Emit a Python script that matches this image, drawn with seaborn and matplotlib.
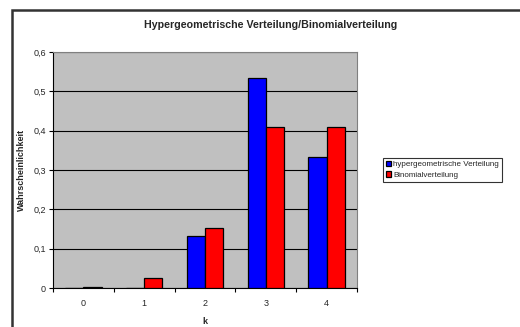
import matplotlib
matplotlib.use("Agg")
import matplotlib.pyplot as plt
import seaborn as sns
import pandas as pd
from matplotlib.patches import Rectangle

k_values = ["0", "1", "2", "3", "4"]
hyper = [0.0, 0.0, 0.1333, 0.5333, 0.3333]
binom = [0.0016, 0.0256, 0.1536, 0.4096, 0.4096]
series_names = ["hypergeometrische Verteilung", "Binomialverteilung"]
y_ticks = [0, 0.1, 0.2, 0.3, 0.4, 0.5, 0.6]
y_labels = ["0", "0,1", "0,2", "0,3", "0,4", "0,5", "0,6"]

df = pd.DataFrame({
    "k": k_values * 2,
    "p": hyper + binom,
    "serie": [series_names[0]] * len(k_values) + [series_names[1]] * len(k_values),
})

sns.set_theme(style="white")
plt.rcParams["font.family"] = ["Liberation Sans", "DejaVu Sans"]

fig = plt.figure(figsize=(5.2, 3.27), dpi=100)
ax = fig.add_axes([53/520, 39/327, 304/520, 236/327])
ax.set_facecolor("#C0C0C0")

sns.barplot(data=df, x="k", y="p", hue="serie", order=k_values,
            hue_order=series_names, palette=["#0000FF", "#FF0000"],
            saturation=1, width=0.6, edgecolor="black", linewidth=0.9,
            ax=ax, legend=True, zorder=3)

ax.set_ylim(0, 0.6)
ax.set_xlim(-0.5, 4.5)
ax.set_yticks(y_ticks)
ax.set_yticklabels(y_labels, fontsize=6.5)
ax.yaxis.grid(True, color="black", linewidth=0.8, zorder=1)
ax.set_axisbelow(True)

ax.set_xticks(range(5))
ax.set_xticklabels(k_values, fontsize=6.5)
ax.set_xticks([0.5 + i for i in range(-1, 5)], minor=True)
ax.tick_params(axis="x", which="major", length=0, pad=8)
ax.tick_params(axis="x", which="minor", length=3, width=0.8, color="black", direction="out", bottom=True)
ax.tick_params(axis="y", which="major", length=3, width=0.8, color="black", direction="out", left=True, pad=2)

for side in ["top", "right"]:
    ax.spines[side].set_color("#808080")
    ax.spines[side].set_linewidth(0.8)
for side in ["left", "bottom"]:
    ax.spines[side].set_color("black")
    ax.spines[side].set_linewidth(0.8)

ax.set_xlabel("")
ax.set_ylabel("")
fig.text(205/520, 1 - 322/327, "k", ha="center", va="center",
         fontsize=6.5, fontweight="bold")
fig.text(21/520, 1 - 170/327, "Wahrscheinlichkeit", ha="center", va="center",
         rotation=90, fontsize=6.5, fontweight="bold")
fig.text(271/520, 1 - 25/327, "Hypergeometrische Verteilung/Binomialverteilung",
         ha="center", va="center", fontsize=7.7, fontweight="bold")

handles, labels = ax.get_legend_handles_labels()
ax.get_legend().remove()
leg = fig.legend(handles, labels, loc="upper left",
                 bbox_to_anchor=(383/520, 1 - 158/327), fontsize=5.8,
                 frameon=True, fancybox=False, edgecolor="black",
                 handlelength=0.7, handleheight=0.7, handletextpad=0.2,
                 borderpad=0.35, labelspacing=0.35, borderaxespad=0)
leg.get_frame().set_linewidth(0.8)

fig.patches.append(Rectangle((12/520, -0.1), 1.0, 1 - 10/327 + 0.1,
                             transform=fig.transFigure, fill=False,
                             edgecolor="#333333", linewidth=1.8))

fig.savefig("out.png", dpi=100)
